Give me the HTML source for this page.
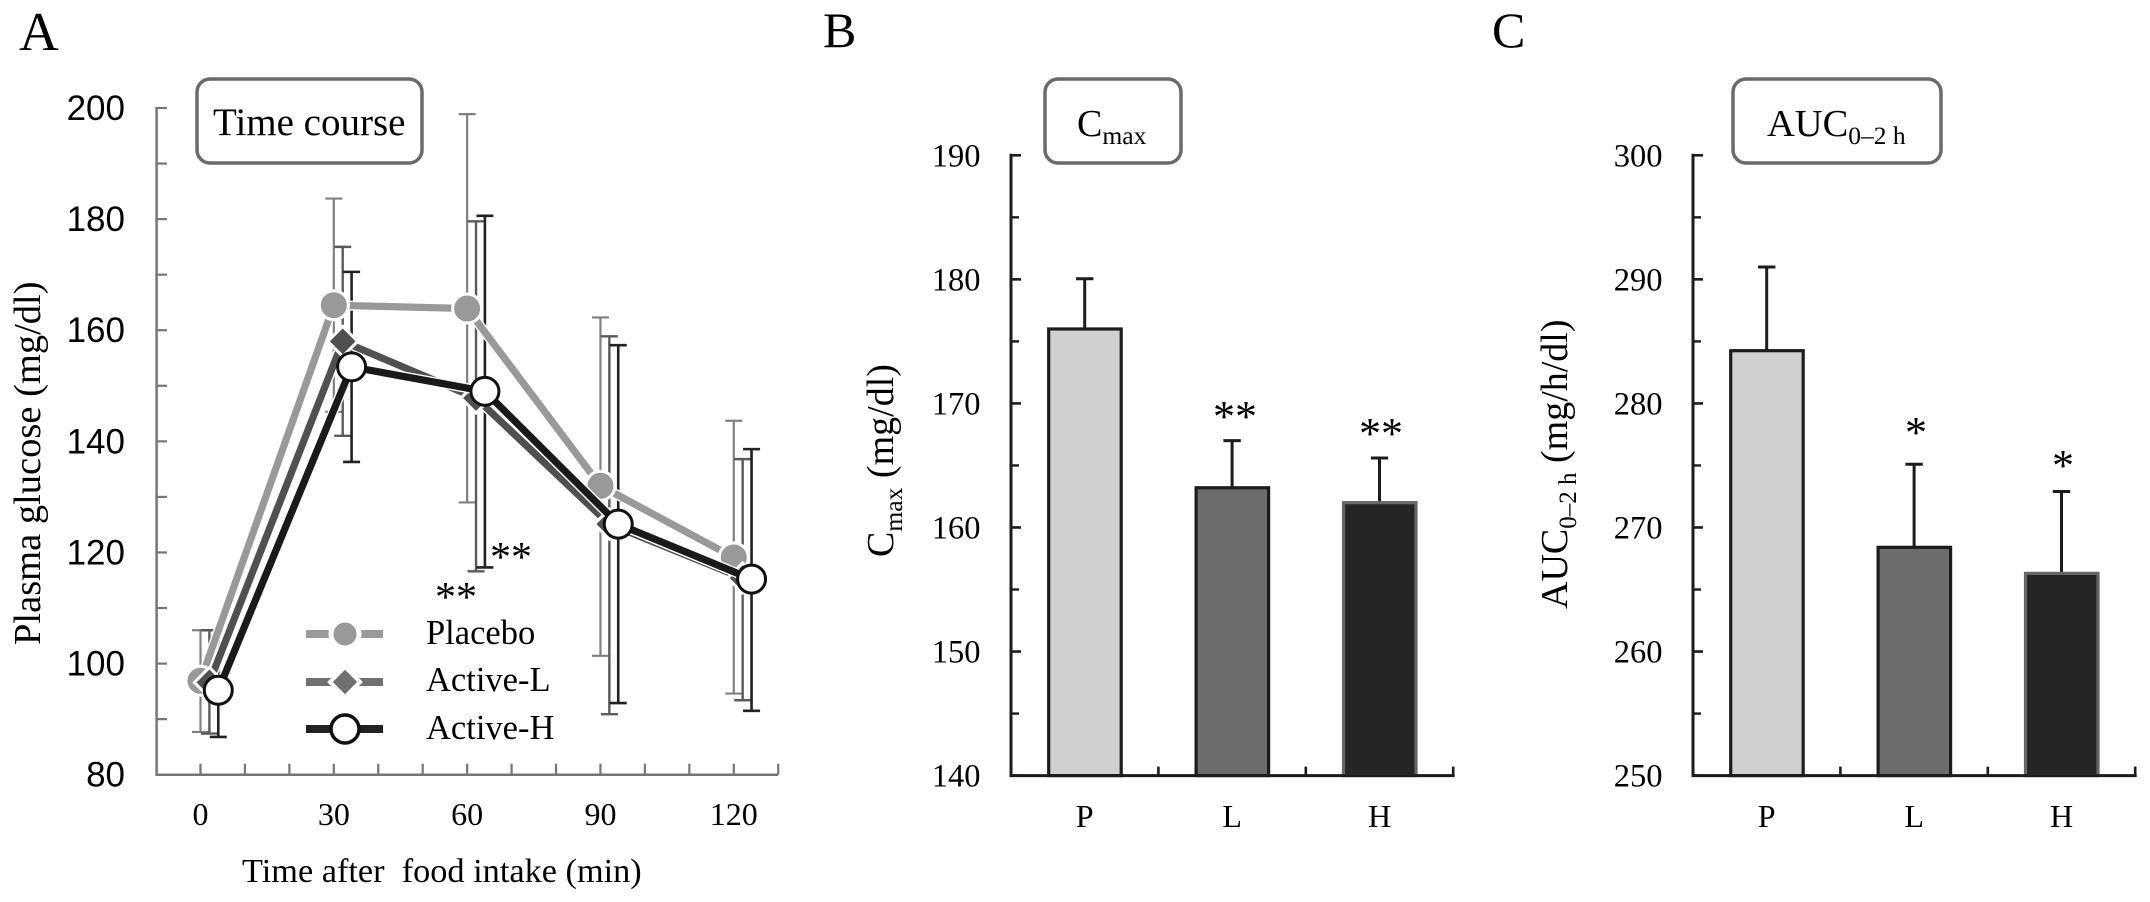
<!DOCTYPE html>
<html lang="en">
<head>
<meta charset="utf-8">
<title>Plasma glucose time course, Cmax and AUC</title>
<style>
html,body{margin:0;padding:0;background:#fff;width:2150px;height:902px;overflow:hidden}
svg{display:block}
text{font-family:"Liberation Serif",serif;fill:#000}
.sans{font-family:"Liberation Sans",sans-serif}
</style>
</head>
<body>
<svg id="figure" xmlns="http://www.w3.org/2000/svg" width="2150" height="902" viewBox="0 0 2150 902">
  <g id="panel-a">
    <text x="19" y="50" font-size="55">A</text>
    <g id="a-errors"></g>
    <g id="a-axes"></g>
    <g id="a-series"></g>
    <rect x="197" y="79" width="225" height="84" rx="13" fill="#fff" stroke="#6a6a6a" stroke-width="3.5"/>
    <text x="213" y="135" font-size="39">Time course</text>
    <text transform="translate(40 645) rotate(-90)" font-size="38.5">Plasma glucose (mg/dl)</text>
    <text x="242" y="882" font-size="34.3">Time after&#160; food intake (min)</text>
    <text x="456" y="611" font-size="42" text-anchor="middle">**</text>
    <text x="511" y="571" font-size="42" text-anchor="middle">**</text>
    <g>
      <g>
        <line x1="306" x2="383" y1="634" y2="634" stroke="#999" stroke-width="8"/>
        <circle cx="345" cy="634" r="14" fill="#999" stroke="#fff" stroke-width="5"/>
        <text x="426" y="644" font-size="34.5">Placebo</text>
      </g>
      <g>
        <line x1="306" x2="383" y1="682" y2="682" stroke="#707070" stroke-width="8"/>
        <polygon points="345,667 360,682 345,697 330,682" fill="#707070" stroke="#fff" stroke-width="4"/>
        <text x="426" y="691" font-size="34.5">Active-L</text>
      </g>
      <g>
        <line x1="306" x2="383" y1="729" y2="729" stroke="#222" stroke-width="8"/>
        <circle cx="345" cy="729" r="14" fill="#fff" stroke="#111" stroke-width="3.5"/>
        <text x="426" y="739" font-size="34.5">Active-H</text>
      </g>
    </g>
  </g>
  <g id="panel-b">
    <text x="823" y="47" font-size="50">B</text>
    <g id="b-plot"></g>
    <rect x="1045" y="79" width="136" height="84" rx="13" fill="#fff" stroke="#6a6a6a" stroke-width="3.5"/>
    <text x="1077" y="136" font-size="38">C<tspan font-size="25.6" dy="8">max</tspan></text>
    <text transform="translate(893 557) rotate(-90)" font-size="38">C<tspan font-size="25.6" dy="9">max</tspan><tspan dy="-9"> (mg/dl)</tspan></text>
    <text x="1235" y="431" font-size="44" text-anchor="middle">**</text>
    <text x="1381" y="448" font-size="44" text-anchor="middle">**</text>
  </g>
  <g id="panel-c">
    <text x="1492" y="47" font-size="50">C</text>
    <g id="c-plot"></g>
    <rect x="1733" y="79" width="208" height="84" rx="13" fill="#fff" stroke="#6a6a6a" stroke-width="3.5"/>
    <text x="1767" y="136" font-size="38.5">AUC<tspan font-size="25.5" dy="8">0–2 h</tspan></text>
    <text transform="translate(1567 609) rotate(-90)" font-size="38">AUC<tspan font-size="25" dy="9">0–2 h</tspan><tspan dy="-9"> (mg/h/dl)</tspan></text>
    <text x="1916" y="447" font-size="44" text-anchor="middle">*</text>
    <text x="2063" y="480" font-size="44" text-anchor="middle">*</text>
  </g>
</svg>
<script>
/* Panel A data */
const timePoints = [0, 30, 60, 90, 120];
const timeOffsets = [0, 2, 4];
const timeTickLabels = ['0', '30', '60', '90', '120'];
const glucoseTickLabels = [80, 100, 120, 140, 160, 180, 200];
const placeboMean = [96.9, 164.5, 163.9, 132, 119.1];
const placeboHigh = [106, 183.7, 198.9, 162.3, 143.7];
const placeboLow = [87.7, 145.3, 129, 101.4, 94.6];
const activeLMean = [96.6, 158, 147.8, 125.1, 115.4];
const activeLHigh = [106, 175, 179.6, 158.9, 136.8];
const activeLLow = [87.4, 141, 116.6, 90.9, 93.4];
const activeHMean = [95.2, 153.4, 149, 125.1, 115.2];
const activeHHigh = [103.8, 170.5, 180.6, 157.3, 138.6];
const activeHLow = [86.8, 136.3, 117.3, 92.9, 91.5];

/* Panel B data */
const barCategories = ['P', 'L', 'H'];
const cmaxValues = [176, 163.2, 162];
const cmaxErrorTops = [180.05, 167, 165.6];
const cmaxTickLabels = [140, 150, 160, 170, 180, 190];

/* Panel C data */
const aucValues = [284.25, 268.4, 266.3];
const aucErrorTops = [291, 275.1, 272.9];
const aucTickLabels = [250, 260, 270, 280, 290, 300];

const SVG_NS = 'http://www.w3.org/2000/svg';
function make(tag, attrs, parent) {
  const el = document.createElementNS(SVG_NS, tag);
  for (const k in attrs) el.setAttribute(k, attrs[k]);
  parent.appendChild(el);
  return el;
}

/* ---------- Panel A ---------- */
const xA = t => 200.5 + t * 4.444;
const yA = v => 774.7 - (v - 80) * 5.556;
const aAxes = document.getElementById('a-axes');
const aErrors = document.getElementById('a-errors');
const aSeries = document.getElementById('a-series');
const axisGrey = '#757575';

const aYLine = make('line', {x1: 156.6, x2: 156.6, y1: yA(200) - 1, y2: yA(80) + 1, stroke: axisGrey, 'stroke-width': 2.5}, aAxes);


const aXLine = make('line', {x1: 155.5, x2: 778, y1: yA(80), y2: yA(80), stroke: axisGrey, 'stroke-width': 2.5}, aAxes);



for (let v = 80; v <= 200; v += 10) {
  const tick = make('line', {x1: 156.6, x2: 167, y1: yA(v), y2: yA(v), stroke: axisGrey, 'stroke-width': 2.2}, aAxes);
  
  
}
for (let t = 0; t <= 130; t += 10) {
  const tick = make('line', {x1: xA(t), x2: xA(t), y1: yA(80), y2: yA(80) - 11, stroke: axisGrey, 'stroke-width': 2.2}, aAxes);
  
  
}
glucoseTickLabels.forEach(v => {
  const label = make('text', {x: 125, y: yA(v) + 12, 'font-size': 35, 'text-anchor': 'end', class: 'sans'}, aAxes);
  label.textContent = v;
  
  
});
timeTickLabels.forEach((s, i) => {
  const label = make('text', {x: xA(timePoints[i]), y: 825, 'font-size': 32, 'text-anchor': 'middle'}, aAxes);
  label.textContent = s;
  
  
});

function drawErrors(name, high, low, offset, color, width) {
  timePoints.forEach((t, i) => {
    const x = xA(t + offset);
    const g = make('g', {stroke: color, 'stroke-width': width}, aErrors);
    
    
    make('line', {x1: x, x2: x, y1: yA(high[i]), y2: yA(low[i])}, g);
    make('line', {x1: x - 8.5, x2: x + 8.5, y1: yA(high[i]), y2: yA(high[i])}, g);
    make('line', {x1: x - 8.5, x2: x + 8.5, y1: yA(low[i]), y2: yA(low[i])}, g);
  });
}
drawErrors('placebo', placeboHigh, placeboLow, timeOffsets[0], '#808080', 2.2);
drawErrors('active-l', activeLHigh, activeLLow, timeOffsets[1], '#5a5a5a', 2.4);
drawErrors('active-h', activeHHigh, activeHLow, timeOffsets[2], '#222', 2.6);

function linePoints(values, offset) {
  return values.map((v, i) => xA(timePoints[i] + offset) + ',' + yA(v)).join(' ');
}
function drawLine(name, values, offset, color) {
  const pts = linePoints(values, offset);
  make('polyline', {points: pts, fill: 'none', stroke: '#fff', 'stroke-width': 10}, aSeries);
  const line = make('polyline', {points: pts, fill: 'none', stroke: color, 'stroke-width': 7.2}, aSeries);
  
  
}

drawLine('placebo', placeboMean, timeOffsets[0], '#999');
placeboMean.forEach((v, i) => {
  const m = make('circle', {cx: xA(timePoints[i] + timeOffsets[0]), cy: yA(v), r: 14.5, fill: '#999', stroke: '#fff', 'stroke-width': 3}, aSeries);
  
  
});

drawLine('active-l', activeLMean, timeOffsets[1], '#505050');
activeLMean.forEach((v, i) => {
  const cx = xA(timePoints[i] + timeOffsets[1]);
  const cy = yA(v);
  const d = 15;
  const m = make('polygon', {points: [cx, cy - d, cx + d, cy, cx, cy + d, cx - d, cy].join(' '), fill: '#505050', stroke: '#fff', 'stroke-width': 3}, aSeries);
  
  
});

drawLine('active-h', activeHMean, timeOffsets[2], '#1a1a1a');
activeHMean.forEach((v, i) => {
  const m = make('circle', {cx: xA(timePoints[i] + timeOffsets[2]), cy: yA(v), r: 14, fill: '#fff', stroke: '#111', 'stroke-width': 3}, aSeries);
  
  
});

/* ---------- Panels B and C ---------- */
const barFills = ['#d0d0d0', '#6c6c6c', '#252525'];
const barStrokes = ['#1c1c1c', '#1c1c1c', '#666'];

function drawBarPanel(target, axisX, values, errorTops, tickLabels) {
  const g = document.getElementById(target);
  const lo = tickLabels[0];
  const hi = tickLabels[tickLabels.length - 1];
  const y = v => 775.6 - (v - lo) * (620.3 / (hi - lo));
  const band = 147.4;
  const xCenter = i => axisX + band * (i + 0.5);
  const ink = '#1c1c1c';

  values.forEach((v, i) => {
    const err = make('g', {stroke: ink, 'stroke-width': 3}, g);
    
    
    make('line', {x1: xCenter(i), x2: xCenter(i), y1: y(errorTops[i]), y2: y(v)}, err);
    make('line', {x1: xCenter(i) - 8.7, x2: xCenter(i) + 8.7, y1: y(errorTops[i]), y2: y(errorTops[i])}, err);

    const bar = make('rect', {x: xCenter(i) - 36, y: y(v), width: 72.5, height: y(lo) - y(v), fill: barFills[i], stroke: barStrokes[i], 'stroke-width': 3.2}, g);
    
    

    const cat = make('text', {x: xCenter(i), y: 827, 'font-size': 32, 'text-anchor': 'middle'}, g);
    cat.textContent = barCategories[i];
    
    
  });

  const yLine = make('line', {x1: axisX, x2: axisX, y1: y(hi) - 1.5, y2: y(lo) + 1.5, stroke: ink, 'stroke-width': 3}, g);
  
  
  const xLine = make('line', {x1: axisX, x2: axisX + band * 3 + 1.5, y1: y(lo), y2: y(lo), stroke: ink, 'stroke-width': 3}, g);
  
  

  for (let i = 1; i <= barCategories.length; i++) {
    const tick = make('line', {x1: axisX + band * i, x2: axisX + band * i, y1: y(lo), y2: y(lo) - 9, stroke: ink, 'stroke-width': 2.6}, g);
    
    
  }
  tickLabels.forEach((v, i) => {
    const tick = make('line', {x1: axisX, x2: axisX + 10, y1: y(v), y2: y(v), stroke: ink, 'stroke-width': 2.6}, g);
    
    
    if (i < tickLabels.length - 1) {
      const mid = (v + tickLabels[i + 1]) / 2;
      const minor = make('line', {x1: axisX, x2: axisX + 8, y1: y(mid), y2: y(mid), stroke: ink, 'stroke-width': 2.4}, g);
      
      
    }
    const label = make('text', {x: axisX - 30.5, y: y(v) + 11, 'font-size': 32.5, 'text-anchor': 'end'}, g);
    label.textContent = v;
    
    
  });
}
drawBarPanel('b-plot', 1011, cmaxValues, cmaxErrorTops, cmaxTickLabels);
drawBarPanel('c-plot', 1693, aucValues, aucErrorTops, aucTickLabels);
</script>
</body>
</html>
